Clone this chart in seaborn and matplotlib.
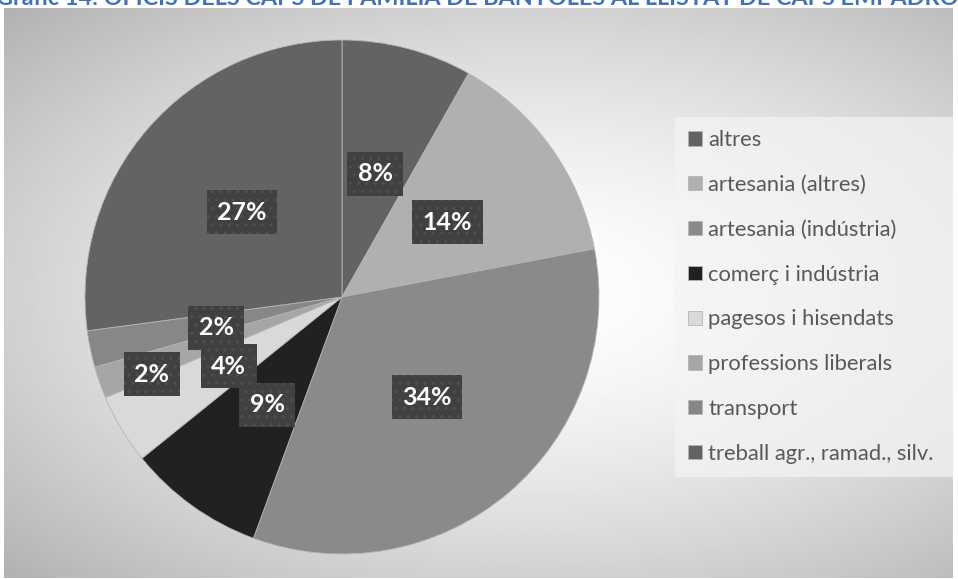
import numpy as np
import matplotlib
matplotlib.use("Agg")
import matplotlib.pyplot as plt
import seaborn as sns

# dades del gràfic
oficis = ["altres", "artesania (altres)", "artesania (indústria)", "comerç i indústria",
          "pagesos i hisendats", "professions liberals", "transport",
          "treball agr., ramad., silv."]
percentatges = [8.2, 13.8, 33.6, 8.6, 4.4, 2.0, 2.3, 27.1]
colors = ["#636363", "#b0b0b0", "#8a8a8a", "#212121", "#d9d9d9", "#a6a6a6", "#878787", "#636363"]
titol = "Gràfic 14: OFICIS DELS CAPS DE FAMÍLIA DE BANYOLES AL LLISTAT DE CAPS EMPADRONATS"

# posicions de les etiquetes (en radis, respecte al centre)
pos_etiq = [(0.13, 0.48), (0.41, 0.29), (0.33, -0.39), (-0.29, -0.42),
            (-0.44, -0.27), (-0.74, -0.30), (-0.49, -0.12), (-0.39, 0.33)]

sns.set_theme(style="white")
plt.rcParams["font.family"] = ["Lato", "DejaVu Sans"]

W, H = 958, 579
fig = plt.figure(figsize=(W / 100, H / 100), dpi=100)
fig.patch.set_facecolor("white")

# fons amb degradat radial
bg = fig.add_axes([4 / W, 1 - 578 / H, 949 / W, 570 / H])
yy, xx = np.mgrid[-1:1:300j, -1:1:500j]
r = np.sqrt(((xx - 0.12) / 1.1) ** 2 + (yy / 1.0) ** 2) / 1.35
grad = np.clip(1 - 0.28 * r ** 1.5, 0, 1)
bg.imshow(grad, cmap="gray", vmin=0, vmax=1, aspect="auto", extent=[0, 1, 0, 1])
bg.set_axis_off()

# pastís
R = 257
cx, cy = 342, 297
ax = fig.add_axes([(cx - R) / W, (H - cy - R) / H, 2 * R / W, 2 * R / H])
wedges, _ = ax.pie(percentatges, colors=colors, startangle=90, counterclock=False,
                   radius=1, wedgeprops=dict(edgecolor="#b5b5b5", linewidth=0.6))
ax.set_xlim(-1, 1)
ax.set_ylim(-1, 1)
ax.set_aspect("equal")
ax.set_axis_off()

plt.rcParams["hatch.linewidth"] = 1.2
for val, (px, py) in zip(percentatges, pos_etiq):
    ax.text(px, py, f"{val:.0f}%", ha="center", va="center", color="white",
            fontsize=18, fontweight="bold",
            bbox=dict(boxstyle="square,pad=0.42", facecolor="#404040",
                      edgecolor="#4e4e4e", hatch="..", linewidth=0))

# llegenda
leg = fig.legend(wedges, oficis, loc="upper left", mode="expand",
                 bbox_to_anchor=(675 / W, 1 - 117 / H, 278 / W, 0), frameon=True,
                 fontsize=15.8, handlelength=0.62, handleheight=0.62,
                 handletextpad=0.3, labelspacing=1.13, borderpad=0.6,
                 borderaxespad=0, fancybox=False)
leg.get_frame().set_facecolor("#f4f4f4")
leg.get_frame().set_alpha(0.7)
leg.get_frame().set_linewidth(0)
for t in leg.get_texts():
    t.set_color("#595959")

# títol (retallat per la vora superior, com a l'original)
fig.text(-0.004, 1.003, titol, ha="left", va="center", fontsize=16.8,
         fontweight="bold", color="#3e72c0")

fig.savefig("out.png", dpi=100)
